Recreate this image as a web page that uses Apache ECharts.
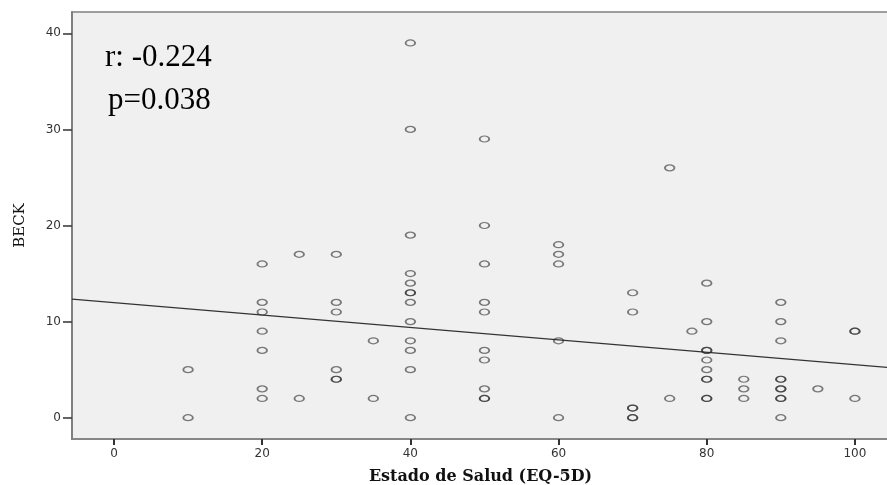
<!DOCTYPE html>
<html>
<head>
<meta charset="utf-8">
<script src="https://cdn.jsdelivr.net/npm/echarts@6/dist/echarts.min.js"></script>
<style>
  html, body { margin: 0; padding: 0; background: #fff; }
  #main { width: 887px; height: 485px; }
</style>
</head>
<body>
<div id="main"></div>
<script>
// datos (Estado de Salud vs BECK)
var saludX = [
  10, 10,
  20, 20, 20, 20, 20, 20, 20,
  25, 25,
  30, 30, 30, 30, 30, 30,
  35, 35,
  40, 40, 40, 40, 40, 40, 40, 40, 40, 40, 40, 40, 40,
  50, 50, 50, 50, 50, 50, 50, 50, 50, 50,
  60, 60, 60, 60, 60,
  70, 70, 70, 70, 70, 70,
  75, 75,
  78,
  80, 80, 80, 80, 80, 80, 80, 80, 80, 80,
  85, 85, 85,
  90, 90, 90, 90, 90, 90, 90, 90, 90, 90,
  95,
  100, 100, 100
];
var beckY = [
  5, 0,
  16, 12, 11, 9, 7, 3, 2,
  17, 2,
  17, 12, 11, 5, 4, 4,
  8, 2,
  39, 30, 19, 15, 14, 13, 13, 12, 10, 8, 7, 5, 0,
  29, 20, 16, 12, 11, 7, 6, 3, 2, 2,
  18, 17, 16, 8, 0,
  13, 11, 1, 1, 0, 0,
  26, 2,
  9,
  14, 10, 7, 7, 6, 5, 4, 4, 2, 2,
  4, 3, 2,
  12, 10, 8, 4, 4, 3, 3, 2, 2, 0,
  3,
  9, 9, 2
];

var xTicks = [0, 20, 40, 60, 80, 100];
var yTicks = [0, 10, 20, 30, 40];

// recta de ajuste
var intercepto = 11.98;
var pendiente = -0.0647;

var xMin = -5.67, xMax = 104.6;
var yMin = -2.22, yMax = 42.22;

var puntos = saludX.map(function (x, i) { return [x, beckY[i]]; });
var recta = [xMin, xMax].map(function (x) { return [x, intercepto + pendiente * x]; });

var myChart = echarts.init(document.getElementById('main'));

var option = {
  backgroundColor: '#fff',
  animation: false,
  grid: {
    left: 72, top: 12, right: -2, bottom: 46,
    outerBoundsMode: 'none',
    containLabel: false,
    show: true,
    backgroundColor: '#F0F0F0',
    borderColor: '#808080',
    borderWidth: 1.5
  },
  xAxis: {
    type: 'value',
    min: xMin, max: xMax,
    name: 'Estado de Salud (EQ-5D)',
    nameLocation: 'middle',
    nameGap: 30,
    nameTextStyle: { fontFamily: 'DejaVu Serif', fontWeight: 'bold', fontSize: 16, color: '#111' },
    axisLine: { show: true, onZero: false, lineStyle: { color: '#808080', width: 1.5 } },
    axisTick: { show: true, length: 6, customValues: xTicks, lineStyle: { color: '#333', width: 2 } },
    axisLabel: { customValues: xTicks, fontFamily: 'DejaVu Sans', fontSize: 12, color: '#333', margin: 9 },
    splitLine: { show: false }
  },
  yAxis: {
    type: 'value',
    min: yMin, max: yMax,
    name: 'BECK',
    nameLocation: 'middle',
    nameGap: 44,
    nameRotate: 90,
    nameTextStyle: { fontFamily: 'DejaVu Serif', fontSize: 15, color: '#111' },
    axisLine: { show: true, onZero: false, lineStyle: { color: '#808080', width: 2 } },
    axisTick: { show: true, length: 9, customValues: yTicks, lineStyle: { color: '#333', width: 1.5 } },
    axisLabel: { customValues: yTicks, fontFamily: 'DejaVu Sans', fontSize: 12, color: '#333', margin: 11 },
    splitLine: { show: false }
  },
  graphic: [
    {
      type: 'text', left: 105, top: 42,
      style: { text: 'r: -0.224', font: '31px "Liberation Serif"', fill: '#000' }
    },
    {
      type: 'text', left: 108, top: 85,
      style: { text: 'p=0.038', font: '31px "Liberation Serif"', fill: '#000' }
    }
  ],
  series: [
    {
      type: 'line',
      data: recta,
      symbol: 'none',
      silent: true,
      lineStyle: { color: '#333', width: 1.2 },
      z: 2
    },
    {
      type: 'scatter',
      data: puntos,
      symbol: 'circle',
      symbolSize: [9.5, 6],
      itemStyle: { color: 'rgba(0,0,0,0)', borderColor: 'rgba(40,40,40,0.75)', borderWidth: 1.5 },
      z: 3
    }
  ]
};

myChart.setOption(option);
</script>
</body>
</html>
